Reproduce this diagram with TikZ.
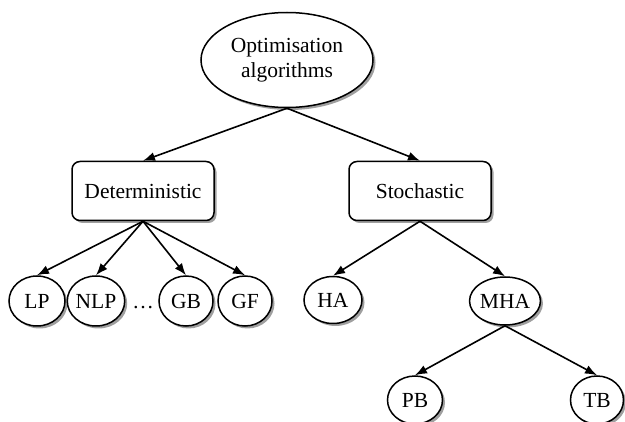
\documentclass[tikz,border=0pt]{standalone}
\usepackage{fontspec}
\setmainfont{Liberation Serif}
\usetikzlibrary{shapes.geometric,shadows,arrows.meta}
\begin{document}
\begin{tikzpicture}[x=1pt,y=1pt,
  shad/.style={drop shadow={shadow xshift=2.5pt,shadow yshift=-2.5pt,fill=gray!75,opacity=1}},
  ell/.style={ellipse,draw,line width=1.5pt,fill=white,inner sep=0pt,shad,font=\fontsize{21.5}{24}\selectfont},
  leaf/.style={ell,minimum width=55pt,minimum height=50pt},
  boxnode/.style={rectangle,rounded corners=8pt,draw,line width=1.5pt,fill=white,shad,minimum width=142pt,minimum height=59pt,font=\fontsize{21.5}{24}\selectfont},
  arr/.style={line width=1.6pt,-{Latex[length=12pt,width=9pt]}}
]
\useasboundingbox (0,0) rectangle (625,-422);
\node[ell,minimum width=172pt,minimum height=95pt,align=center] (root) at (287,-60) {Optimisation\\[1pt]algorithms};
\node[boxnode] (det) at (143,-191) {Deterministic};
\node[boxnode] (sto) at (420,-191) {Stochastic};
\node[leaf,minimum width=56pt] (lp) at (37,-301) {LP};
\node[leaf] (nlp) at (96,-301) {NLP};
\node[font=\fontsize{21.5}{24}\selectfont,anchor=base,inner sep=0pt] (dots) at (143,-309) {\dots};
\node[leaf,minimum width=54pt] (gb) at (186,-301) {GB};
\node[leaf,minimum width=54pt] (gf) at (245,-301) {GF};
\node[leaf,minimum width=58pt,minimum height=47pt] (ha) at (333,-300) {HA};
\node[leaf,minimum width=66pt,minimum height=48pt] (mha) at (505,-301) {MHA};
\node[leaf,minimum width=55pt,minimum height=48pt] (pb) at (415,-400) {PB};
\node[leaf,minimum width=53pt,minimum height=48pt] (tb) at (597,-400) {TB};
\draw[arr] (root.south) -- (det.north);
\draw[arr] (root.south) -- (sto.north);
\draw[arr] (det.south) -- (lp.north);
\draw[arr] (det.south) -- (nlp.north);
\draw[arr] (det.south) -- (gb.north);
\draw[arr] (det.south) -- (gf.north);
\draw[arr] (sto.south) -- (ha.north);
\draw[arr] (sto.south) -- (mha.north);
\draw[arr] (mha.south) -- (pb.north);
\draw[arr] (mha.south) -- (tb.north);
\end{tikzpicture}
\end{document}
